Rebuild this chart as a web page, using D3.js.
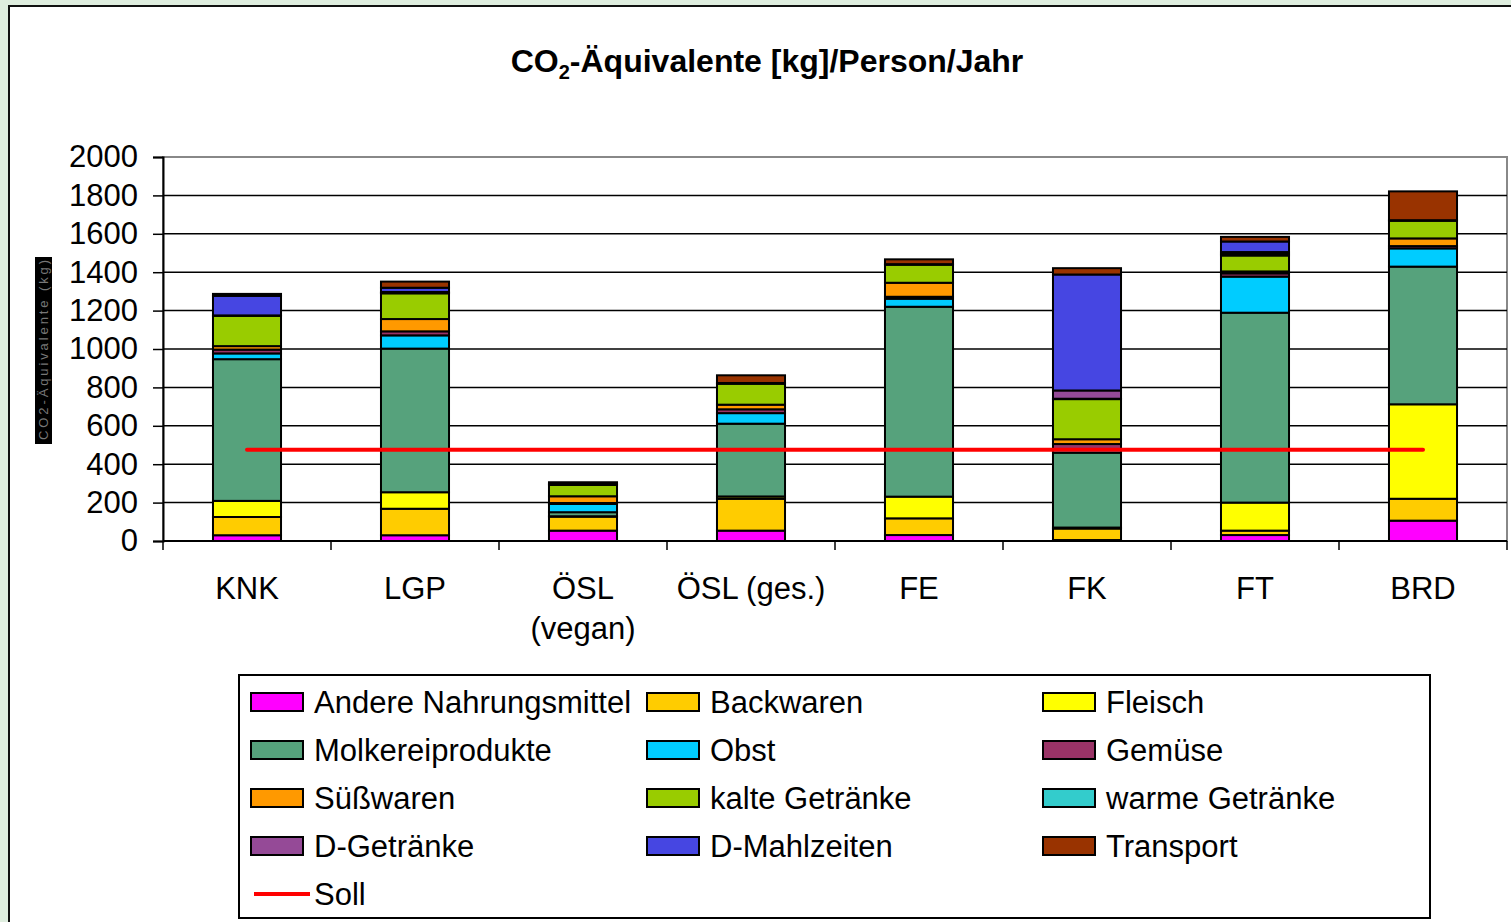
<!DOCTYPE html>
<html>
<head>
<meta charset="utf-8">
<script src="https://cdn.jsdelivr.net/npm/d3@7"></script>
<style>
  body { margin: 0; background: #dfeedf; overflow: hidden; }
  svg { display: block; font-family: "Liberation Sans", Arial, sans-serif; }
</style>
</head>
<body>
<script>
// categories and series, bottom to top of each stack
var categories = ["KNK", "LGP", "ÖSL\n(vegan)", "ÖSL (ges.)", "FE", "FK", "FT", "BRD"];
var seriesNames = ["Andere Nahrungsmittel", "Backwaren", "Fleisch", "Molkereiprodukte", "Obst", "Gemüse",
  "Süßwaren", "kalte Getränke", "warme Getränke", "D-Getränke", "D-Mahlzeiten", "Transport"];
var seriesColors = ["#ff00ff", "#ffcc00", "#ffff00", "#56a27c", "#00ccff", "#993366",
  "#ff9900", "#99cc00", "#33cccc", "#954a97", "#4646e2", "#993300"];

var andere     = [30, 30, 54, 54, 31, 5, 31, 106];
var backwaren  = [95, 138, 73, 166, 87, 60, 23, 114];
var fleisch    = [84, 86, 2, 12, 113, 5, 146, 492];
var molkerei   = [738, 748, 21, 379, 989, 390, 989, 717];
var obst       = [30, 69, 43, 55, 42, 15, 188, 95];
var gemuese    = [20, 21, 5, 20, 10, 30, 17, 12];
var suesswaren = [18, 64, 35, 24, 73, 25, 10, 40];
var kalte      = [158, 134, 59, 109, 94, 209, 83, 92];
var warme      = [2, 2, 5, 4, 3, 2, 8, 3];
var dGetraenke = [0, 5, 0, 0, 0, 43, 10, 0];
var dMahlzeit  = [102, 22, 0, 0, 0, 604, 55, 0];
var transport  = [10, 32, 9, 40, 25, 33, 24, 150];
var soll       = [475, 475, 475, 475, 475, 475, 475, 475];

var yTicks = [0, 200, 400, 600, 800, 1000, 1200, 1400, 1600, 1800, 2000];

var allSeries = [andere, backwaren, fleisch, molkerei, obst, gemuese, suesswaren, kalte, warme, dGetraenke, dMahlzeit, transport];

var W = 1511, H = 922, FS = 31;
var svg = d3.select("body").append("svg").attr("width", W).attr("height", H);

// chart area
svg.append("rect").attr("x", 9).attr("y", 6).attr("width", W).attr("height", H)
  .attr("fill", "white").attr("stroke", "#111").attr("stroke-width", 2);

svg.append("text").attr("x", 767).attr("y", 72).attr("text-anchor", "middle")
  .attr("font-size", 32).attr("font-weight", "bold").attr("fill", "#000")
  .html('CO<tspan font-size="20" dy="7">2</tspan><tspan dy="-7">-Äquivalente [kg]/Person/Jahr</tspan>');

var x = d3.scaleBand().domain(categories).range([163, 1507]);
var y = d3.scaleLinear().domain([0, 2000]).range([541, 157]);
var barW = x.bandwidth() * 0.405;

// plot frame (gray top/right)
svg.append("rect").attr("x", 163).attr("y", 157).attr("width", 1344).attr("height", 384)
  .attr("fill", "none").attr("stroke", "#888").attr("stroke-width", 2);

// gridlines
svg.append("g").selectAll("line").data(yTicks.slice(1, -1)).join("line")
  .attr("x1", 163).attr("x2", 1507).attr("y1", d => y(d)).attr("y2", d => y(d))
  .attr("stroke", "#000").attr("stroke-width", 1.5);

// y axis
var yAxis = svg.append("g").attr("transform", "translate(163,0)")
  .call(d3.axisLeft(y).tickValues(yTicks).tickFormat(d3.format("d")).tickSize(10).tickPadding(15));
yAxis.select(".domain").attr("stroke", "#000").attr("stroke-width", 2);
yAxis.selectAll(".tick line").attr("stroke", "#000").attr("stroke-width", 1.5);
yAxis.selectAll(".tick text").attr("font-size", FS).attr("fill", "#000")
  .attr("font-family", "'Liberation Sans', Arial, sans-serif");

// garbled axis title block
svg.append("rect").attr("x", 35).attr("y", 257).attr("width", 17).attr("height", 187).attr("fill", "#000");
svg.append("text").attr("transform", "translate(48,440) rotate(-90)")
  .attr("font-size", 13).attr("fill", "#777").attr("textLength", 180)
  .text("CO2-Äquivalente (kg)");

// stacks
var rows = categories.map((c, i) => {
  var r = { cat: c };
  seriesNames.forEach((s, j) => r[s] = allSeries[j][i]);
  return r;
});
var stacked = d3.stack().keys(seriesNames)(rows);

svg.append("g").selectAll("g").data(stacked).join("g")
  .attr("fill", (d, i) => seriesColors[i])
  .selectAll("rect").data(d => d).join("rect")
  .attr("x", d => x(d.data.cat) + (x.bandwidth() - barW) / 2)
  .attr("y", d => y(d[1]))
  .attr("width", barW)
  .attr("height", d => y(d[0]) - y(d[1]))
  .attr("stroke", "#000").attr("stroke-width", 2);

// x axis
svg.append("line").attr("x1", 163).attr("x2", 1507).attr("y1", 541).attr("y2", 541)
  .attr("stroke", "#000").attr("stroke-width", 2);
var bounds = categories.map(c => x(c)).concat([1507]);
svg.append("g").selectAll("line").data(bounds).join("line")
  .attr("x1", d => d).attr("x2", d => d).attr("y1", 541).attr("y2", 550)
  .attr("stroke", "#000").attr("stroke-width", 1.5);

svg.append("g").selectAll("text").data(categories).join("text")
  .attr("x", d => x(d) + x.bandwidth() / 2).attr("y", 599)
  .attr("text-anchor", "middle").attr("font-size", FS).attr("fill", "#000")
  .each(function(d) {
    var parts = d.split("\n");
    d3.select(this).selectAll("tspan").data(parts).join("tspan")
      .attr("x", x(d) + x.bandwidth() / 2).attr("dy", (p, k) => k ? 40 : 0).text(p => p);
  });

// Soll line
var line = d3.line().x((d, i) => x(categories[i]) + x.bandwidth() / 2).y(d => y(d));
svg.append("path").datum(soll).attr("d", line).attr("fill", "none")
  .attr("stroke", "#ff0000").attr("stroke-width", 4).attr("stroke-linecap", "round");

// legend
var lg = svg.append("g");
lg.append("rect").attr("x", 239).attr("y", 675).attr("width", 1191).attr("height", 243)
  .attr("fill", "white").attr("stroke", "#000").attr("stroke-width", 2);
var colX = [251, 647, 1043];
var rowY = [702, 750, 798, 846, 894];
seriesNames.forEach((s, i) => {
  var cx = colX[i % 3], cy = rowY[Math.floor(i / 3)];
  lg.append("rect").attr("x", cx).attr("y", cy - 9).attr("width", 52).attr("height", 18)
    .attr("fill", seriesColors[i]).attr("stroke", "#000").attr("stroke-width", 2);
  lg.append("text").attr("x", cx + 63).attr("y", cy + 11).attr("font-size", FS).attr("fill", "#000").text(s);
});
lg.append("line").attr("x1", 254).attr("x2", 310).attr("y1", 894).attr("y2", 894)
  .attr("stroke", "#ff0000").attr("stroke-width", 4);
lg.append("text").attr("x", 314).attr("y", 905).attr("font-size", FS).attr("fill", "#000").text("Soll");
</script>
</body>
</html>
